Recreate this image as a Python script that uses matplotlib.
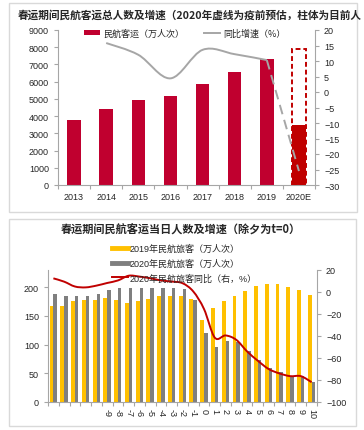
import matplotlib
matplotlib.use('Agg')
import matplotlib.pyplot as plt
import numpy as np
from matplotlib.lines import Line2D
from matplotlib.patches import Patch, Rectangle, PathPatch
from matplotlib.path import Path

plt.rcParams['font.family'] = ['Liberation Sans', 'Noto Sans CJK SC', 'DejaVu Sans']

# ---------------- data: top chart ----------------
years = ['2013', '2014', '2015', '2016', '2017', '2018', '2019', '2020E']
passengers = [3800, 4400, 4930, 5140, 5840, 6575, 7290, 3510]   # 万人次
forecast_2020E = 7910                                            # 疫前预估
growth_years = ['2014', '2015', '2016', '2017', '2018', '2019']
growth = [15.8, 12.0, 4.4, 13.6, 12.2, 10.3]                     # %
growth_2020E = -25.5

# ---------------- data: bottom chart ----------------
day_labels = ['', '', '', '', '', '-9', '-8', '-7', '-6', '-5', '-4', '-3', '-2', '-1',
              '0', '1', '2', '3', '4', '5', '6', '7', '8', '9', '10']
pax_2019 = [168, 168, 176, 177, 178, 181, 178, 173, 176, 179, 185, 184, 185, 179,
            143, 164, 176, 185, 194, 202, 205, 205, 200, 196, 186]
pax_2020 = [188, 184, 184, 184, 188, 196, 198, 198, 198, 198, 199, 198, 197, 178,
            121, 96, 106, 105, 89, 74, 60, 52, 46, 46, 34]
yoy_2020 = [12.4, 9.4, 5.0, 4.2, 5.8, 8.2, 10.5, 14.8, 14.0, 12.5, 10.5, 9.5, 8.0, 0.5,
            -15.5, -41.5, -39.5, -43.5, -54, -62.5, -70, -74, -76.5, -76.5, -82]

RED = '#C0002F'
RED2 = '#C00000'
GRAY_LINE = '#A6A6A6'
YELLOW = '#FFC000'
GRAY_BAR = '#7F7F7F'
SPINE = '#A6A6A6'
TXT = '#262626'
FS = 6.5


def smooth_patch(xs, ys, **kw):
    pts = np.column_stack([xs, ys]).astype(float)
    n = len(pts)
    verts = [pts[0]]
    codes = [Path.MOVETO]
    for i in range(n - 1):
        p0 = pts[i - 1] if i > 0 else pts[i]
        p1 = pts[i]
        p2 = pts[i + 1]
        p3 = pts[i + 2] if i + 2 < n else pts[i + 1]
        c1 = p1 + (p2 - p0) / 6.0
        c2 = p2 - (p3 - p1) / 6.0
        verts += [c1, c2, p2]
        codes += [Path.CURVE4] * 3
    return PathPatch(Path(verts, codes), fill=False, **kw)


def style_axis(ax):
    ax.spines['top'].set_visible(False)
    for s in ['left', 'right', 'bottom']:
        ax.spines[s].set_color(SPINE)
        ax.spines[s].set_linewidth(0.8)
    ax.tick_params(colors=SPINE, labelcolor=TXT, labelsize=FS, length=3, width=0.8, direction='out')


W, H = 364, 431
fig = plt.figure(figsize=(W / 100, H / 100), dpi=100)
fig.patch.set_facecolor('white')

# panel frames
for (x0, y0, x1, y1) in [(9, 4, 357, 213), (9, 220, 356, 427)]:
    fig.patches.append(Rectangle((x0 / W, 1 - y1 / H), (x1 - x0) / W, (y1 - y0) / H,
                                 transform=fig.transFigure, facecolor='white',
                                 edgecolor='#D9D9D9', linewidth=1.0, zorder=-5))

# ---------------- top chart ----------------
ax1 = fig.add_axes([58 / W, 1 - 186 / H, 257 / W, 155 / H])
ax1.set_facecolor('none')
x = np.arange(len(years))
colors = [RED] * (len(years) - 1) + [RED2]
ax1.bar(x, passengers, width=0.42, color=colors, zorder=2)
ax1.bar([x[-1]], [forecast_2020E], width=0.42, fill=False, edgecolor=RED2,
        linestyle=(0, (2.5, 1.5)), linewidth=1.4, zorder=3)
ax1.set_xlim(-0.5, len(years) - 0.5)
ax1.set_ylim(0, 9000)
ax1.set_yticks(np.arange(0, 9001, 1000))
ax1.set_xticks(x)
ax1.set_xticklabels(years)
ax1.set_xticks(np.arange(-0.5, len(years), 1), minor=True)
style_axis(ax1)
ax1.spines['right'].set_visible(False)
ax1.tick_params(axis='x', which='major', length=0, pad=5)
ax1.tick_params(axis='x', which='minor', length=3, color=SPINE, width=0.8)

ax1r = ax1.twinx()
ax1r.set_ylim(-30, 20)
ax1r.set_yticks(np.arange(-30, 21, 5))
style_axis(ax1r)
ax1r.spines['left'].set_visible(False)
ax1r.spines['bottom'].set_visible(False)
gx = [years.index(y) for y in growth_years]
ax1r.add_patch(smooth_patch(gx, growth, edgecolor=GRAY_LINE, linewidth=1.4, zorder=4))
ax1r.plot([gx[-1], x[-1]], [growth[-1], growth_2020E], color=GRAY_LINE,
          linestyle=(0, (5, 3)), linewidth=1.4, zorder=4)

fig.text(18 / W, 1 - 15 / H, '春运期间民航客运总人数及增速（2020年虚线为疫前预估，柱体为目前人',
         fontsize=7.7, fontweight='bold', color=TXT, va='center', ha='left',
         family=['Noto Sans CJK SC', 'DejaVu Sans'])

leg1 = fig.legend(handles=[Patch(facecolor=RED, edgecolor='none'),
                           Line2D([], [], color=GRAY_LINE, linewidth=1.4)],
                  labels=['民航客运（万人次）', '同比增速（%）'],
                  loc='center left', bbox_to_anchor=(84 / W, 1 - 34 / H), ncol=2,
                  frameon=False, handlelength=1.8, handleheight=0.55,
                  handletextpad=0.3, columnspacing=2.2, borderpad=0, borderaxespad=0,
                  prop={'family': ['Noto Sans CJK SC'], 'size': FS})

# ---------------- bottom chart ----------------
ax2 = fig.add_axes([48 / W, 1 - 403 / H, 269 / W, 132 / H])
ax2.set_facecolor('none')
d = np.arange(len(day_labels))
ax2.bar(d - 0.17, pax_2019, width=0.36, color=YELLOW, zorder=2)
ax2.bar(d + 0.17, pax_2020, width=0.32, color=GRAY_BAR, zorder=2)
ax2.set_xlim(-0.5, len(day_labels) - 0.5)
ax2.set_ylim(0, 230)
ax2.set_yticks(np.arange(0, 201, 50))
ax2.set_xticks(d)
ax2.set_xticklabels(day_labels, rotation=270)
ax2.set_xticks(np.arange(-0.5, len(day_labels), 1), minor=True)
style_axis(ax2)
ax2.spines['right'].set_visible(False)
ax2.tick_params(axis='x', which='major', length=0, pad=4)
ax2.tick_params(axis='x', which='minor', length=3, color=SPINE, width=0.8)

ax2r = ax2.twinx()
ax2r.set_ylim(-100, 20)
ax2r.set_yticks(np.arange(-100, 21, 20))
style_axis(ax2r)
ax2r.spines['left'].set_visible(False)
ax2r.spines['bottom'].set_visible(False)
ax2r.add_patch(smooth_patch(d, yoy_2020, edgecolor='#C00000', linewidth=1.4, zorder=4))

fig.text(181 / W, 1 - 230 / H, '春运期间民航客运当日人数及增速（除夕为t=0）',
         fontsize=8, fontweight='bold', color=TXT, va='center', ha='center',
         family=['Noto Sans CJK SC', 'DejaVu Sans'])

leg2 = fig.legend(handles=[Line2D([], [], color=YELLOW, linewidth=3.5),
                           Line2D([], [], color=GRAY_BAR, linewidth=3.5),
                           Line2D([], [], color='#C00000', linewidth=1.4)],
                  labels=['2019年民航旅客（万人次）', '2020年民航旅客（万人次）',
                          '2020年民航旅客同比（右，%）'],
                  loc='upper left', bbox_to_anchor=(112 / W, 1 - 245 / H),
                  frameon=False, handlelength=1.8, handletextpad=0.2,
                  labelspacing=0.6, borderpad=0, borderaxespad=0,
                  prop={'family': ['Liberation Sans', 'Noto Sans CJK SC'], 'size': FS})
for t in leg1.get_texts() + leg2.get_texts():
    t.set_color(TXT)

fig.savefig('out.png', dpi=100)
